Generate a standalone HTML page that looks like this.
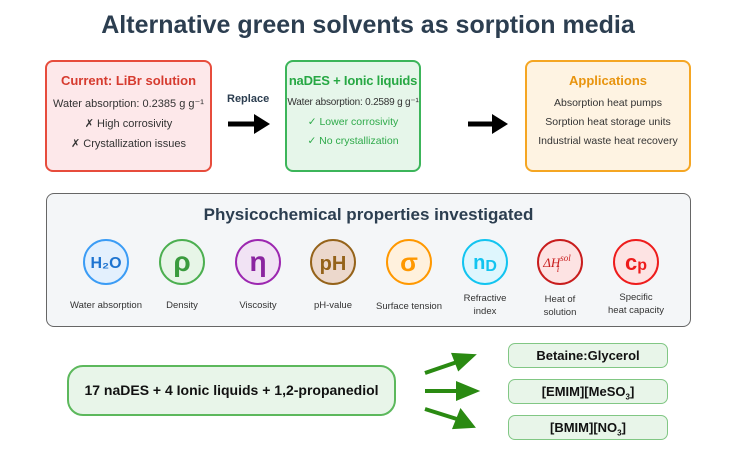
<!DOCTYPE html>
<html><head><meta charset="utf-8"><style>
body{margin:0;width:736px;height:460px;background:#fff;font-family:"Liberation Sans",sans-serif;position:relative;overflow:hidden}
.a{position:absolute}
.box{position:absolute;box-sizing:border-box;border:2px solid;border-radius:8px;text-align:center;white-space:nowrap}
.box h3{margin:11px 0 9px;font-size:13px}
.box p{margin:0 0 7px;font-size:11px;color:#333}
.lbl{position:absolute;width:90px;text-align:center;font-size:9.5px;color:#333;line-height:13px}
.small{position:absolute;left:508px;width:160px;height:25px;box-sizing:border-box;border:1.5px solid #81c784;background:#e8f5e9;border-radius:7px;font-weight:bold;font-size:13px;text-align:center;line-height:23px;color:#111}
</style></head><body>
<div class="a" style="left:0;width:736px;top:11px;text-align:center;font-size:25px;font-weight:bold;color:#2c3e50">Alternative green solvents as sorption media</div>

<div class="box" style="left:45px;top:60px;width:167px;height:112px;border-color:#e74c3c;background:#fde8ea">
<h3 style="color:#d63b2f">Current: LiBr solution</h3><p>Water absorption: 0.2385 g g⁻¹</p><p>✗ High corrosivity</p><p>✗ Crystallization issues</p></div>
<div class="box" style="left:285px;top:60px;width:136px;height:112px;border-color:#3cb55a;background:#e6f6ea">
<h3 style="color:#27a844;letter-spacing:-0.2px">naDES + Ionic liquids</h3><p style="font-size:10px;letter-spacing:-0.2px;margin-bottom:8px">Water absorption: 0.2589 g g⁻¹</p><p style="color:#2eaa4a;font-size:10.5px">✓ Lower corrosivity</p><p style="color:#2eaa4a;font-size:10.5px">✓ No crystallization</p></div>
<div class="box" style="left:525px;top:60px;width:166px;height:112px;border-color:#f5a623;background:#fef3e2">
<h3 style="color:#e8940e">Applications</h3><p style="font-size:10.5px">Absorption heat pumps</p><p style="font-size:10.5px">Sorption heat storage units</p><p style="font-size:10.5px">Industrial waste heat recovery</p></div>
<div class="a" style="left:227px;top:93px;font-size:11px;font-weight:bold;color:#2c3e50">Replace</div>
<svg class="a" style="left:0;top:0" width="736" height="460">
<path d="M228 124H258" stroke="#000" stroke-width="5"/><path d="M254 114L270 124L254 134Z" fill="#000"/>
<path d="M468 124H496" stroke="#000" stroke-width="5"/><path d="M492 114L508 124L492 134Z" fill="#000"/>
<g stroke="#2a8a12" stroke-width="4" fill="#2a8a12">
<path d="M425 373L460 361"/><path d="M454 355L472 356L459 368Z"/>
<path d="M425 391H460"/><path d="M458 384L475 391L458 398Z"/>
<path d="M425 409L460 420"/><path d="M461 412L472 426L455 427Z"/>
</g></svg>

<div class="a" style="left:46px;top:193px;width:645px;height:134px;box-sizing:border-box;border:1.5px solid #666;border-radius:8px;background:#f4f6f8"></div>
<div class="a" style="left:46px;top:205px;width:645px;text-align:center;font-size:17px;font-weight:bold;color:#2c3e50">Physicochemical properties investigated</div>
<svg class="a" style="left:0;top:0" width="736" height="460" font-family="Liberation Sans" font-weight="bold" text-anchor="middle">
<circle cx="106" cy="262" r="22" fill="#e3f0fd" stroke="#3b9cf5" stroke-width="2"/><text x="106" y="268" font-size="16" fill="#1e74d0">H₂O</text>
<circle cx="182" cy="262" r="22" fill="#e7f5e7" stroke="#4caf50" stroke-width="2"/><text x="182" y="271" font-size="28" fill="#3a9b3d">ρ</text>
<circle cx="258" cy="262" r="22" fill="#f1e3f4" stroke="#9c27b0" stroke-width="2"/><text x="258" y="271" font-size="28" fill="#8a24a0">η</text>
<circle cx="333" cy="262" r="22" fill="#ecd8cc" stroke="#95631a" stroke-width="2"/><text x="333" y="270" font-size="20" fill="#95631a">pH</text>
<circle cx="409" cy="262" r="22" fill="#fff1dd" stroke="#ff9800" stroke-width="2"/><text x="409" y="271" font-size="26" fill="#ff9800">σ</text>
<circle cx="485" cy="262" r="22" fill="#def6fd" stroke="#12c4f0" stroke-width="2"/><text x="485" y="269" font-size="20" fill="#12c4f0">n<tspan font-size="16" dy="2">D</tspan></text>
<circle cx="560" cy="262" r="22" fill="#fde3e3" stroke="#c81d1d" stroke-width="2"/><text x="557" y="267" font-size="13" fill="#c81d1d" font-family="Liberation Serif" font-weight="normal" font-style="italic">ΔH<tspan font-size="9" dy="-6">sol</tspan><tspan font-size="9" dx="-14" dy="11">i</tspan></text>
<circle cx="636" cy="262" r="22" fill="#fde3e3" stroke="#ee1c1c" stroke-width="2"/><text x="636" y="270" font-size="22" fill="#ee1c1c">c<tspan font-size="16">p</tspan></text>
</svg>
<div class="lbl" style="left:61px;top:299px">Water absorption</div>
<div class="lbl" style="left:137px;top:299px">Density</div>
<div class="lbl" style="left:213px;top:299px">Viscosity</div>
<div class="lbl" style="left:288px;top:299px">pH-value</div>
<div class="lbl" style="left:364px;top:300px">Surface tension</div>
<div class="lbl" style="left:440px;top:292px">Refractive<br>index</div>
<div class="lbl" style="left:515px;top:293px">Heat of<br>solution</div>
<div class="lbl" style="left:591px;top:291px">Specific<br>heat capacity</div>

<div class="a" style="left:67px;top:365px;width:329px;height:51px;box-sizing:border-box;border:2px solid #5cb85c;border-radius:16px;background:#e8f5e9;text-align:center;line-height:47px;font-weight:bold;font-size:14px;color:#111">17 naDES + 4 Ionic liquids + 1,2-propanediol</div>
<div class="small" style="top:343px">Betaine:Glycerol</div>
<div class="small" style="top:379px">[EMIM][MeSO<sub style="font-size:8px">3</sub>]</div>
<div class="small" style="top:415px">[BMIM][NO<sub style="font-size:8px">3</sub>]</div>
</body></html>
